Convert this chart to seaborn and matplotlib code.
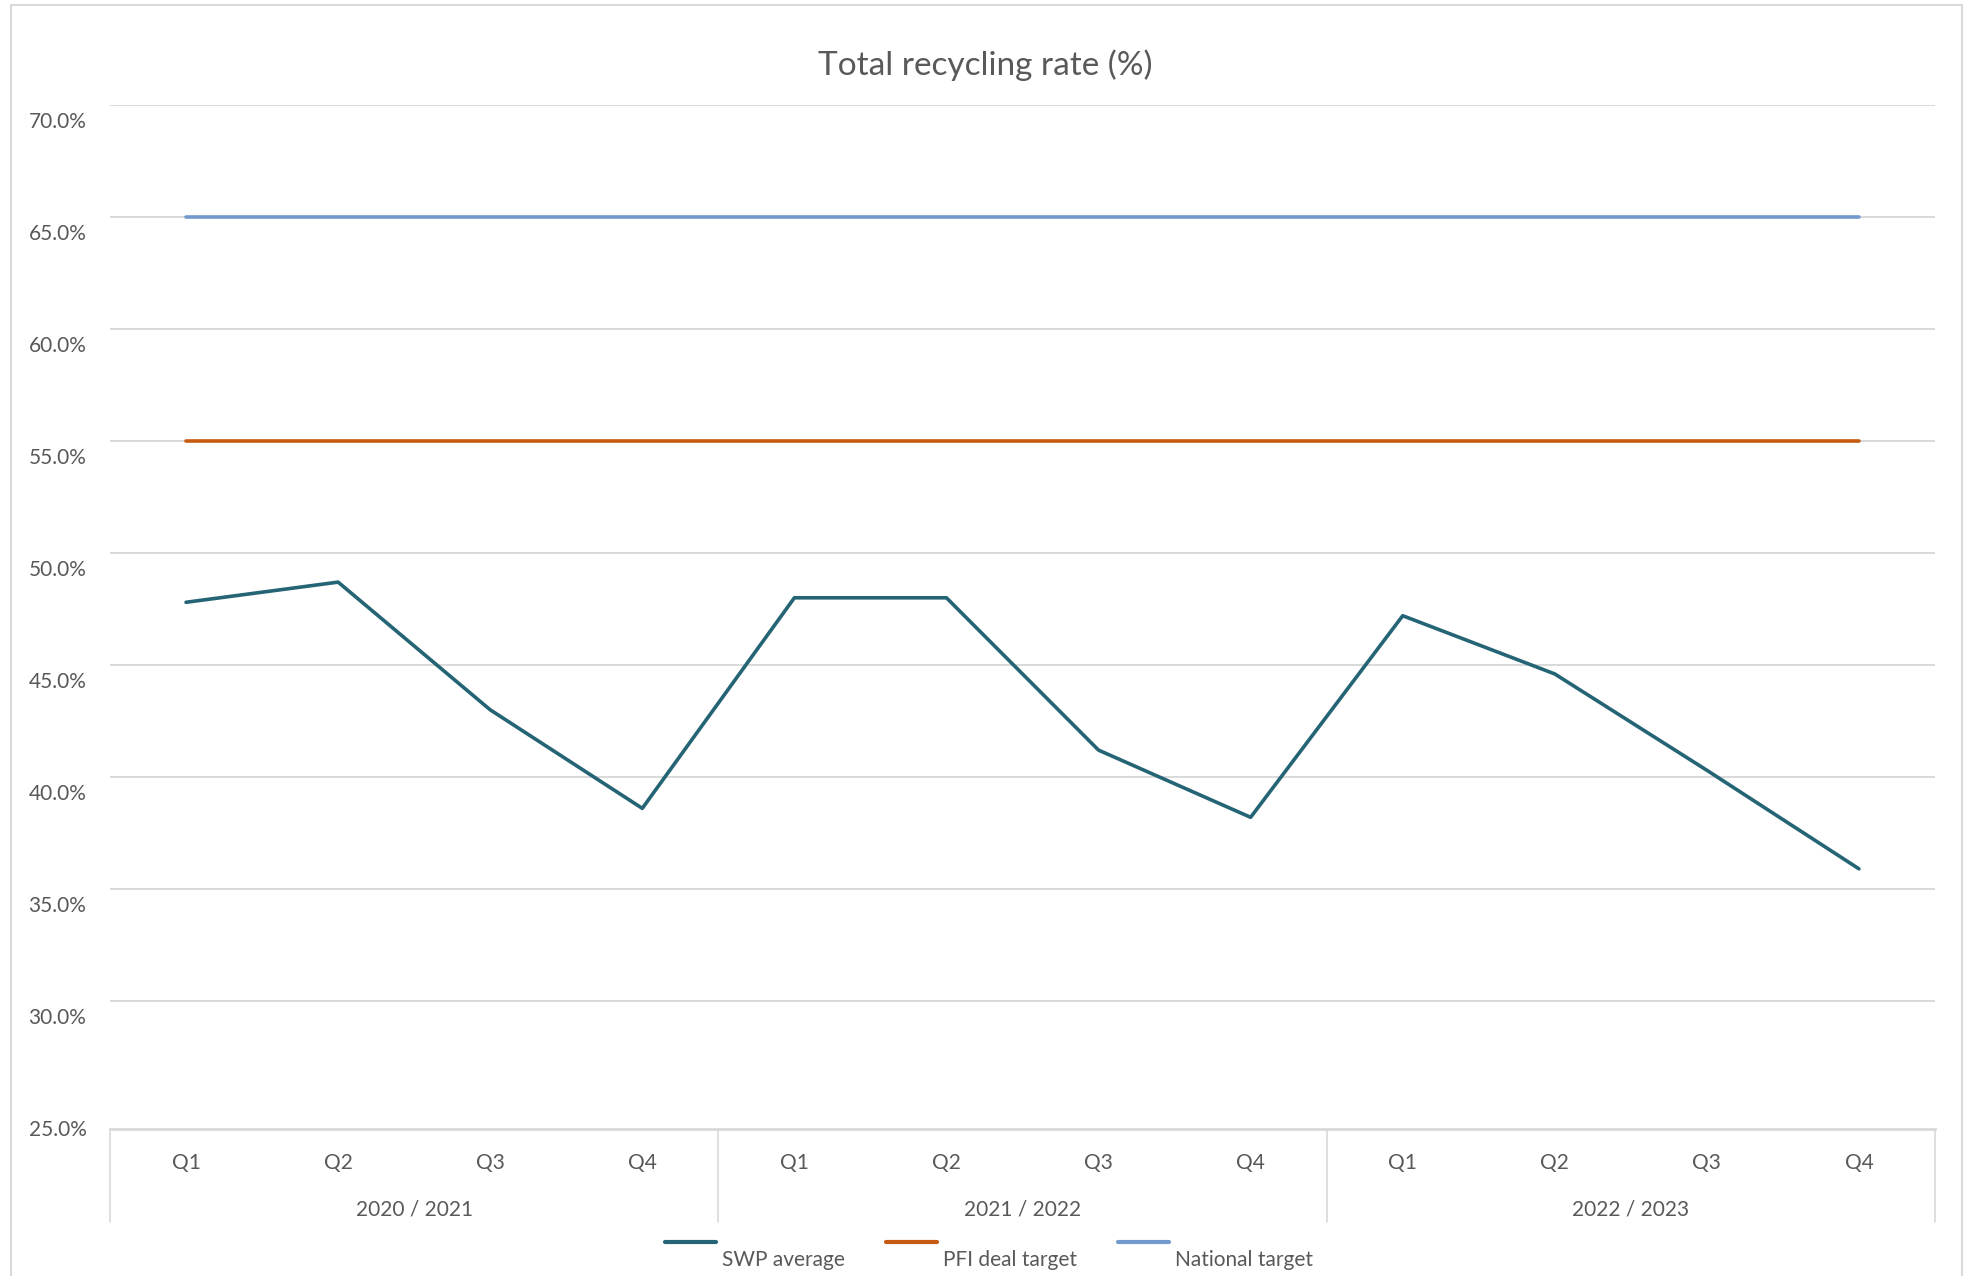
import matplotlib
matplotlib.use("Agg")
import matplotlib.pyplot as plt
import matplotlib.transforms as mtransforms
from matplotlib.lines import Line2D
from matplotlib.patches import Rectangle
import seaborn as sns
import pandas as pd

# data
years = ["2020 / 2021", "2021 / 2022", "2022 / 2023"]
quarters = ["Q1", "Q2", "Q3", "Q4"]
swp_average = [47.8, 48.7, 43.0, 38.6, 48.0, 48.0, 41.2, 38.2, 47.2, 44.6, 40.3, 35.9]
pfi_target = [55.0, 55.0, 55.0, 55.0, 55.0, 55.0, 55.0, 55.0, 55.0, 55.0, 55.0, 55.0]
national_target = [65.0, 65.0, 65.0, 65.0, 65.0, 65.0, 65.0, 65.0, 65.0, 65.0, 65.0, 65.0]
series_names = ["SWP average", "PFI deal target", "National target"]
y_ticks = [25, 30, 35, 40, 45, 50, 55, 60, 65, 70]

colors = ["#246475", "#C55A11", "#7199CE"]
grey_txt = "#595959"
grid_col = "#D9D9D9"

sns.set_theme(style="white")
plt.rcParams["font.family"] = ["Lato", "DejaVu Sans"]

rows = []
for name, vals in zip(series_names, [swp_average, pfi_target, national_target]):
    for i, v in enumerate(vals):
        rows.append({"idx": i, "quarter": quarters[i % 4], "year": years[i // 4],
                     "series": name, "value": v})
df = pd.DataFrame(rows)

W, H = 1970, 1276
fig = plt.figure(figsize=(W / 100, H / 100), dpi=100)
ax = fig.add_axes([110 / W, 1 - 1129 / H, 1825 / W, 1024 / H])

sns.lineplot(data=df, x="idx", y="value", hue="series", hue_order=series_names,
             palette=colors, linewidth=2.6, legend=False, ax=ax, zorder=3)

ax.set_xlim(-0.5, 11.5)
ax.set_ylim(25 - 16 / 22.4, 70)
ax.set_yticks(y_ticks)
ax.set_yticklabels([f"{v:.1f}%" for v in y_ticks])
ax.set_xticks(range(12))
ax.set_xticklabels(quarters * 3)
ax.set_xlabel("")
ax.set_ylabel("")

ax.grid(axis="y", color=grid_col, linewidth=1.4)
ax.set_axisbelow(True)
ax.yaxis.get_gridlines()[0].set_visible(False)
for s in ["top", "right", "left"]:
    ax.spines[s].set_visible(False)
ax.spines["bottom"].set_color(grid_col)
ax.spines["bottom"].set_linewidth(2.0)

ax.tick_params(axis="both", length=0, labelsize=15, labelcolor=grey_txt)
ax.tick_params(axis="y", pad=17)
ax.tick_params(axis="x", pad=17.5)
shift = mtransforms.ScaledTranslation(0, -0.15, fig.dpi_scale_trans)
for lab in ax.get_yticklabels():
    lab.set_transform(lab.get_transform() + shift)

# second level of the category axis
trans = ax.get_xaxis_transform()
for k, yr in enumerate(years):
    ax.text(4 * k + 1.5, -81 / 1024, yr, transform=trans, ha="center", va="center",
            fontsize=15, color=grey_txt)
for xb in [-0.5, 3.5, 7.5, 11.5]:
    ax.plot([xb, xb], [0, -93 / 1024], transform=trans, color=grid_col,
            linewidth=1.2, clip_on=False)

fig.text(0.5, 1 - 65 / H, "Total recycling rate (%)", ha="center", va="center",
         fontsize=24, color=grey_txt)

handles = [Line2D([], [], color=c, linewidth=3) for c in colors]
leg = fig.legend(handles, series_names, loc="center", ncol=3,
                 bbox_to_anchor=(989 / W, 1 - 1243 / H), frameon=False,
                 fontsize=15, handlelength=2.45, handletextpad=0.3,
                 columnspacing=1.95, labelcolor=grey_txt)
for t in leg.get_texts():
    t.set_position((0, -17))

fig.add_artist(Rectangle((11 / W, -0.1), (1962 - 11) / W, 1 - 5 / H + 0.1,
                         transform=fig.transFigure, fill=False,
                         edgecolor=grid_col, linewidth=1.5))

fig.savefig("out.png", dpi=100, facecolor="white")
